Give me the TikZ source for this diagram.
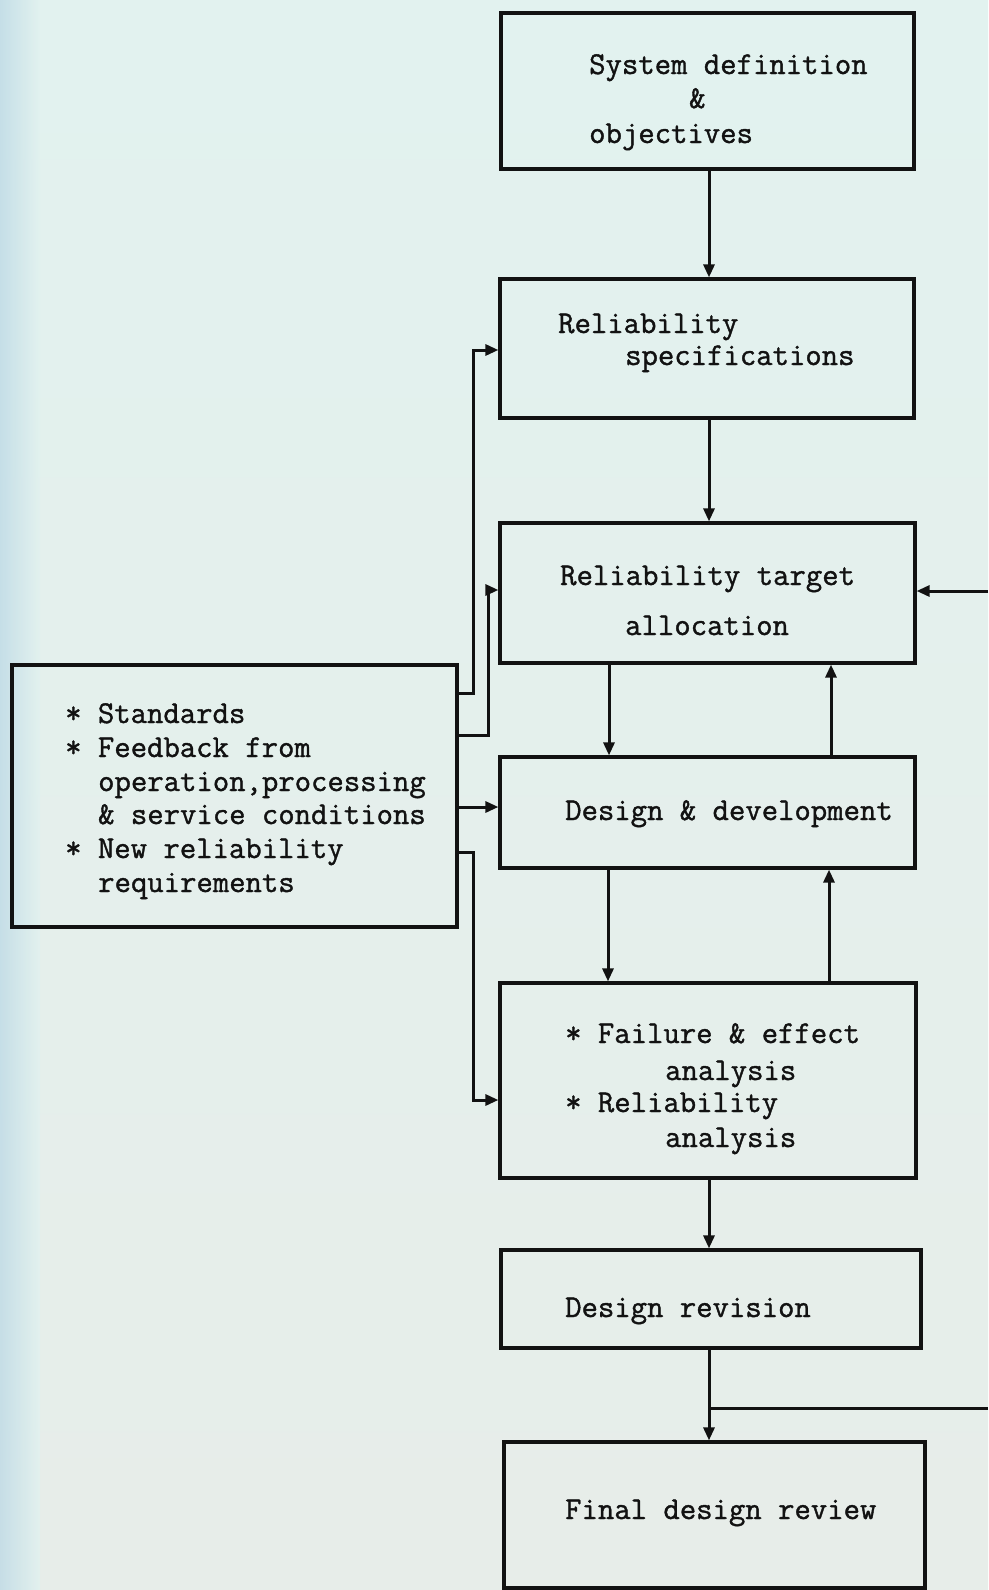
\documentclass[tikz,border=0pt]{standalone}
\usepackage{fontspec}
\setmonofont{Latin Modern Mono}[BoldFont={Latin Modern Mono},BoldFeatures={FakeBold=1.2}]
\usetikzlibrary{arrows.meta}
\definecolor{paper}{RGB}{226,242,239}
\definecolor{paperlow}{RGB}{231,237,233}
\definecolor{edgeblue}{RGB}{190,218,230}
\definecolor{ink}{RGB}{18,18,18}
\begin{document}
\begin{tikzpicture}[x=1pt,y=-1pt,
  box/.style={draw=ink,line width=3.2pt,inner sep=0pt,rectangle},
  txt/.style={anchor=base west,inner sep=0pt,text=ink,font=\ttfamily\bfseries\fontsize{31.8}{34}\selectfont},
  link/.style={draw=ink,line width=3pt},
  arr/.style={link,-{Triangle[length=13pt,width=11pt]}}]
\useasboundingbox (0,0) rectangle (988,1590);
\shade[top color=paper,bottom color=paperlow] (0,0) rectangle (988,1590);
\shade[left color=edgeblue,right color=paper,opacity=0.8] (0,0) rectangle (40,1590);
% boxes
\node[box,minimum width=413pt,minimum height=156pt] (sys) at (707.5,91) {};
\node[box,minimum width=414pt,minimum height=139pt] (spec) at (707,348.5) {};
\node[box,minimum width=415pt,minimum height=140pt] (tgt) at (707.5,593) {};
\node[box,minimum width=415pt,minimum height=111pt] (dd) at (707.5,812.5) {};
\node[box,minimum width=416pt,minimum height=195pt] (fail) at (708,1080.5) {};
\node[box,minimum width=420pt,minimum height=98pt] (rev) at (711,1299) {};
\node[box,minimum width=421pt,minimum height=146pt] (fin) at (714.5,1515) {};
\node[box,minimum width=445pt,minimum height=262pt] (src) at (234.5,796) {};
% texts
\node[txt] (sys1) at (589,74) {System definition};
\node[txt] (sys2) at (689,108) {\&};
\node[txt] (sys3) at (589,143) {objectives};
\node[txt] (spec1) at (558,333) {Reliability};
\node[txt] (spec2) at (625,365) {specifications};
\node[txt] (tgt1) at (560,585) {Reliability target};
\node[txt] (tgt2) at (625,635) {allocation};
\node[txt] (dd1) at (565,820) {Design \& development};
\node[txt] (f1) at (565,1043) {* Failure \& effect};
\node[txt] (f2) at (665,1080) {analysis};
\node[txt] (f3) at (565,1112) {* Reliability};
\node[txt] (f4) at (665,1147) {analysis};
\node[txt] (rev1) at (565,1317) {Design revision};
\node[txt] (fin1) at (565,1519) {Final design review};
\node[txt] (s1) at (65,723) {* Standards};
\node[txt] (s2) at (65,757) {* Feedback from};
\node[txt] (s3) at (98,791) {operation,processing};
\node[txt] (s4) at (98,824) {\& service conditions};
\node[txt] (s5) at (65,858) {* New reliability};
\node[txt] (s6) at (98,892) {requirements};
% main column
\draw[arr] (sys.south -| 709,0) -- (spec.north -| 709,0);
\draw[arr] (spec.south -| 709,0) -- (tgt.north -| 709,0);
\draw[arr] (tgt.south -| 609,0) -- (dd.north -| 609,0);
\draw[arr] (dd.north -| 831,0) -- (tgt.south -| 831,0);
\draw[arr] (dd.south -| 608,0) -- (fail.north -| 608,0);
\draw[arr] (fail.north -| 829,0) -- (dd.south -| 829,0);
\draw[arr] (fail.south -| 709,0) -- (rev.north -| 709,0);
\draw[arr] (rev.south -| 709,0) -- (fin.north -| 709,0);
% feedback lines at right
\coordinate (fbin) at (988,591);
\coordinate (fbout) at (988,1408);
\draw[arr] (fbin) -- (tgt.east |- fbin);
\draw[link] (709,1408) -- (fbout);
% from the input box
\draw[arr] (src.east |- 0,693) -| (473,350) -- (spec.west |- 0,350);
\draw[arr] (src.east |- 0,735) -| (488,590) -- (tgt.west |- 0,590);
\draw[arr] (src.east |- 0,807) -- (dd.west |- 0,807);
\draw[arr] (src.east |- 0,852) -| (473,1100) -- (fail.west |- 0,1100);
\end{tikzpicture}
\end{document}
